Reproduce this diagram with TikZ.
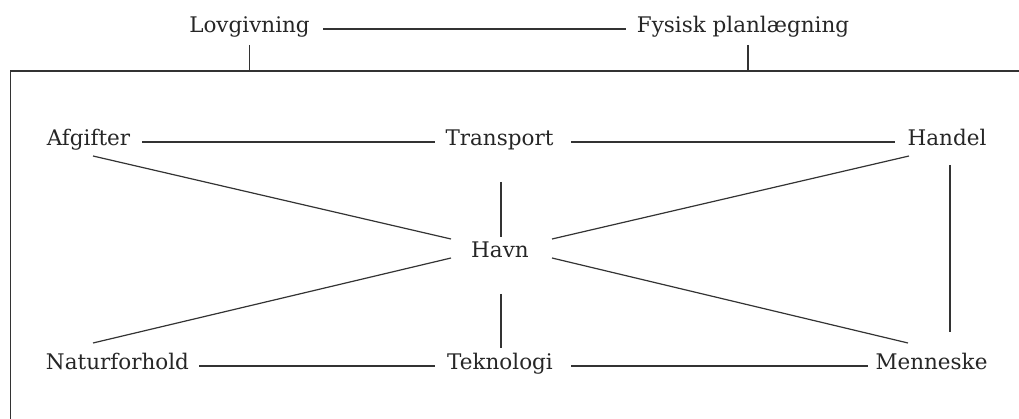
\documentclass[tikz,border=0pt]{standalone}
\usepackage{fontspec}
\setmainfont{DejaVu Serif}
\usetikzlibrary{calc}
\begin{document}
\begin{tikzpicture}[x=1pt,y=-1pt,
  lbl/.style={inner sep=0pt, anchor=base, font=\fontsize{21.5}{26}\selectfont, text=black!85},
  conn/.style={draw=black!80, line width=1.2pt}]
\useasboundingbox (0,0) rectangle (1019,419);
\coordinate (frR) at (1019,71);
\coordinate (frTL) at (10.5,71);
\coordinate (frB) at (10.5,419);
\draw[conn] (frR) -- (frTL) -- (frB);

\node[lbl] (lov) at (249.5,33) {Lovgivning};
\node[lbl] (fys) at (743,33) {Fysisk planlægning};
\node[lbl] (afg) at (88.5,146) {Afgifter};
\node[lbl] (tra) at (499.5,146) {Transport};
\node[lbl] (han) at (947,146) {Handel};
\node[lbl] (havn) at (500,258) {Havn};
\node[lbl] (nat) at (117.5,369) {Naturforhold};
\node[lbl] (tek) at (500,369) {Teknologi};
\node[lbl] (men) at (931.5,369) {Menneske};

% horizontal connectors
\draw[conn] ($(lov.base)+(73.5,-4)$) -- ($(fys.base)+(-117,-4)$);
\draw[conn] ($(afg.base)+(53.5,-4)$) -- ($(tra.base)+(-64.5,-4)$);
\draw[conn] ($(tra.base)+(71.5,-4)$) -- ($(han.base)+(-52,-4)$);
\draw[conn] ($(nat.base)+(81.5,-3)$) -- ($(tek.base)+(-65,-3)$);
\draw[conn] ($(tek.base)+(71,-3)$) -- ($(men.base)+(-63.5,-3)$);

% verticals to frame
\coordinate (lovv) at ($(lov.base)+(0,12)$);
\coordinate (fysv) at ($(fys.base)+(5,12)$);
\draw[conn] (lovv) -- (lovv |- frTL);
\draw[conn] (fysv) -- (fysv |- frTL);

% verticals
\draw[conn] ($(tra.base)+(1.5,36)$) -- ($(havn.base)+(1,-21)$);
\draw[conn] ($(havn.base)+(1,36)$) -- ($(tek.base)+(1,-21)$);
\draw[conn] ($(han.base)+(3,19)$) -- ($(men.base)+(18.5,-37)$);

% diagonals
\draw[conn] ($(afg.base)+(4.5,10)$) -- ($(havn.base)+(-49,-19)$);
\draw[conn] ($(nat.base)+(-24.5,-26)$) -- ($(havn.base)+(-49,0)$);
\draw[conn] ($(han.base)+(-38,10)$) -- ($(havn.base)+(52,-19)$);
\draw[conn] ($(men.base)+(-23.5,-26)$) -- ($(havn.base)+(52,0)$);
\end{tikzpicture}
\end{document}
